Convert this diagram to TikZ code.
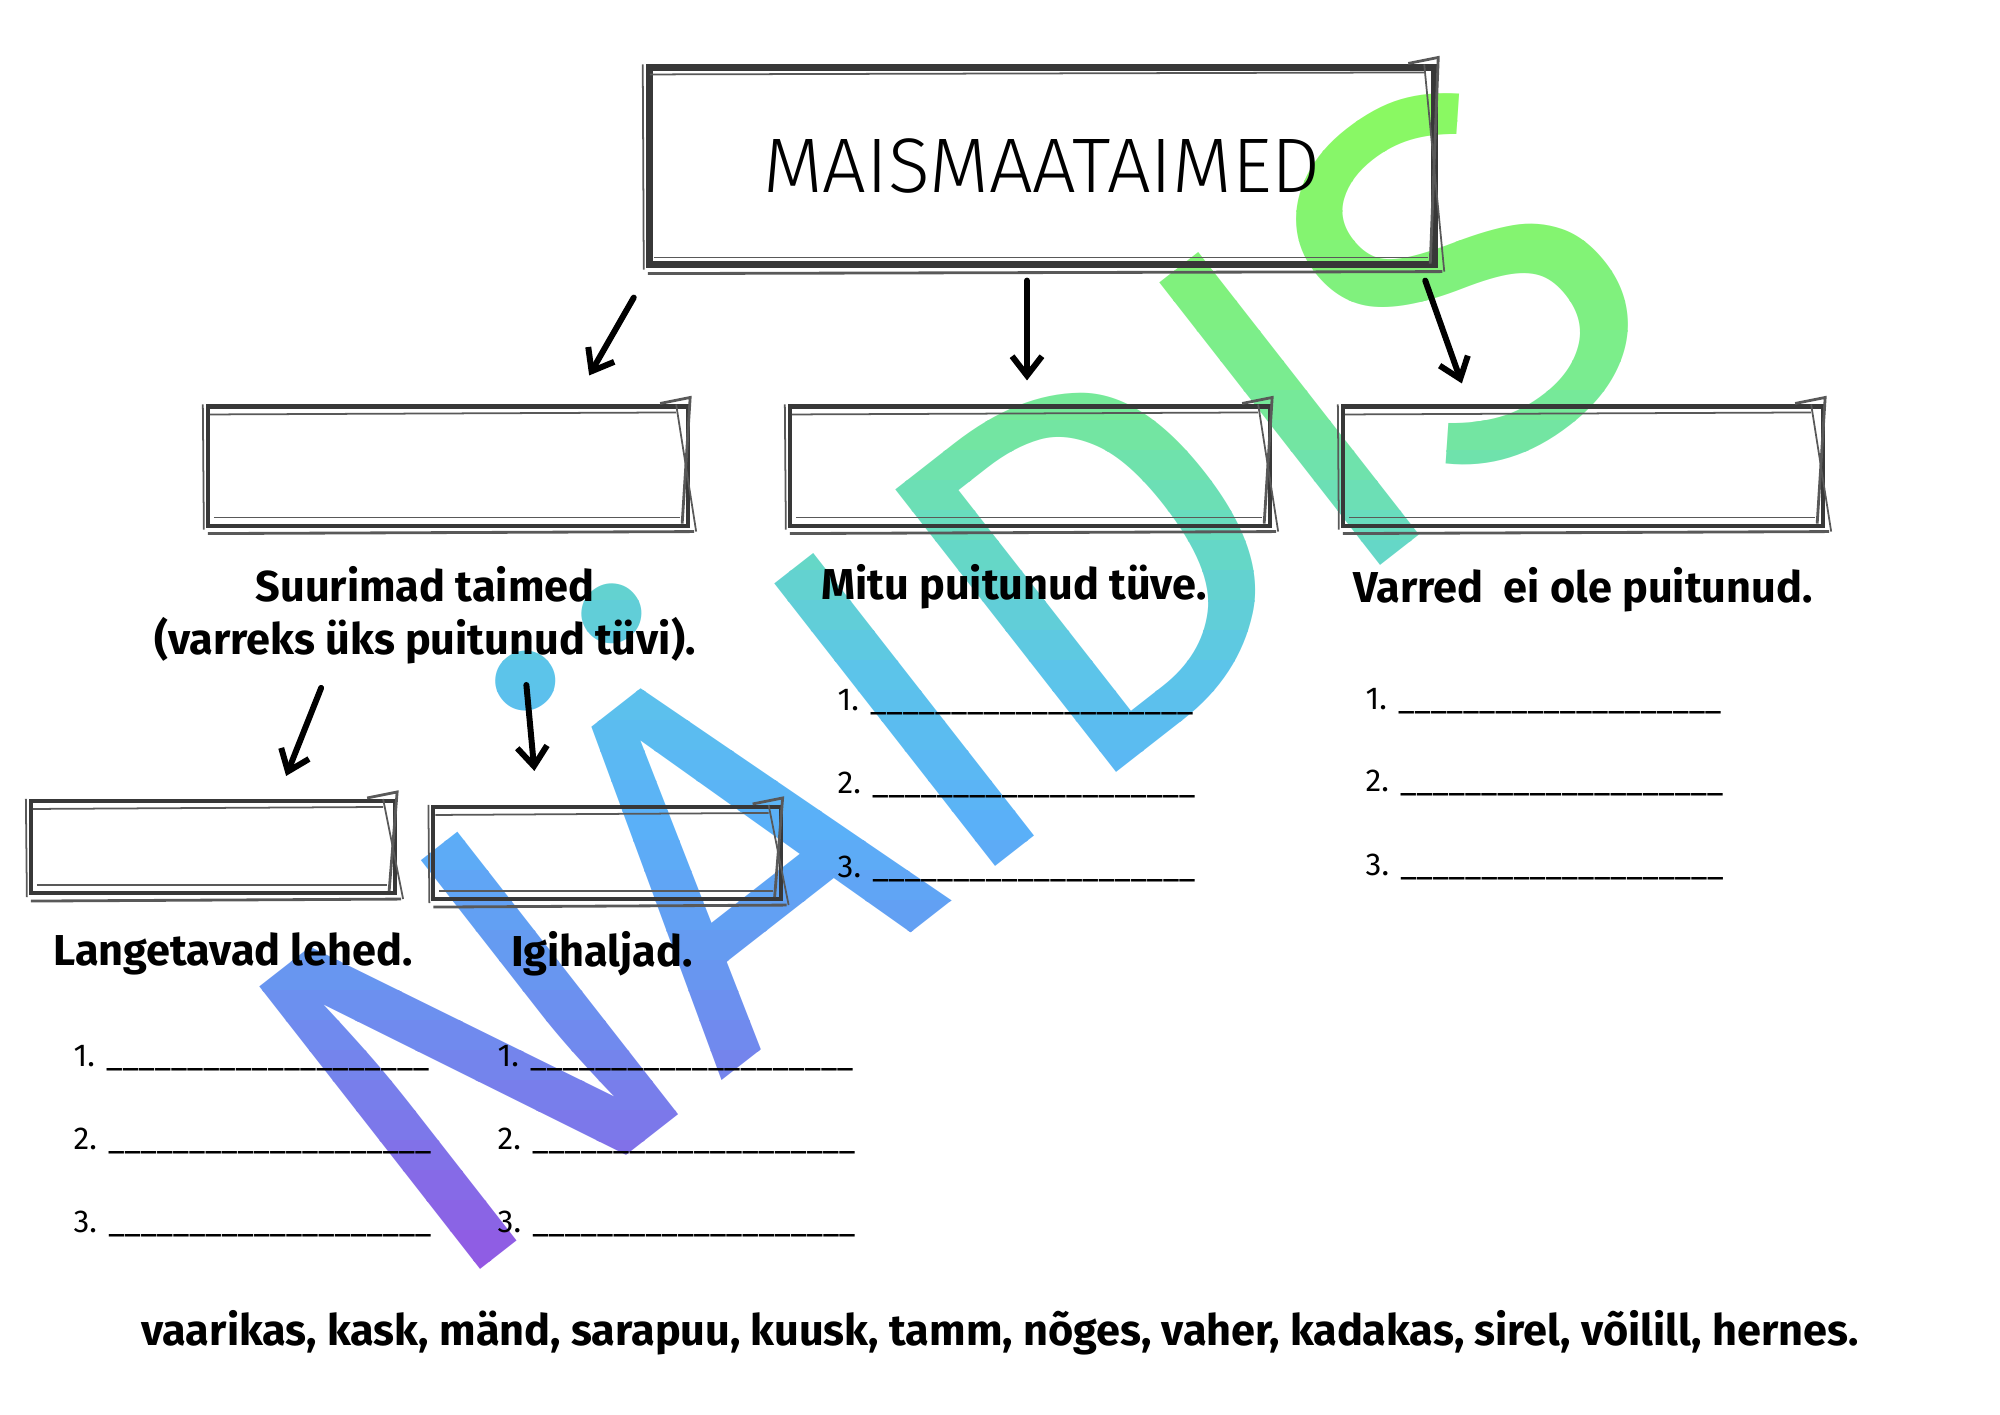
\documentclass[tikz,border=0pt]{standalone}
\usepackage{fontspec}
\setmainfont{Fira Sans}
\newfontfamily\lightfont{Fira Sans Light}
\usetikzlibrary{arrows.meta,calc}

\definecolor{wm0}{HTML}{8CFA5E}
\definecolor{wm1}{HTML}{84F470}
\definecolor{wm2}{HTML}{7AEC90}
\definecolor{wm3}{HTML}{68DCBE}
\definecolor{wm4}{HTML}{5CC4EA}
\definecolor{wm5}{HTML}{5AB0F8}
\definecolor{wm6}{HTML}{6896F0}
\definecolor{wm7}{HTML}{7C78EA}
\definecolor{wm8}{HTML}{9456E2}
\definecolor{wm9}{HTML}{9A48E0}

\begin{document}
\begin{tikzpicture}[
  x=0.01cm, y=-0.01cm,
  box/.style={draw=black!78, line width=1.15pt, inner sep=0pt,
    minimum width=4.8cm, minimum height=1.19cm},
  smallbox/.style={box, minimum width=3.55cm, minimum height=0.92cm},
  sketch/.style={draw=black!65, line width=0.5pt},
  label/.style={font=\fontsize{12.3}{15.2}\selectfont\bfseries, align=center},
  item/.style={anchor=base west, inner sep=0pt, font=\fontsize{9}{11}\selectfont},
  arr/.style={-{Straight Barb[length=5.5pt,width=8.5pt]}, line width=1.7pt, line cap=round},
  wmark/.style={anchor=base, inner sep=0pt, rotate=38,
    font=\fontsize{148}{148}\selectfont},
]
\useasboundingbox (0,0) rectangle (2000,1414);

% watermark, painted in bands for the gradient
\foreach \ya/\ca/\cb in {60/wm0/wm1, 210/wm1/wm2, 360/wm2/wm3, 510/wm3/wm4,
    660/wm4/wm5, 810/wm5/wm6, 960/wm6/wm7, 1110/wm7/wm8, 1260/wm8/wm9} {
  \foreach \k in {0,...,4} {
    \pgfmathtruncatemacro{\p}{100-20*\k}
    \pgfmathsetmacro{\yb}{\ya+30*\k}
    \colorlet{wmc}{\ca!\p!\cb}
    \begin{scope}
      \clip (0,\yb) rectangle (2000,\yb+31);
      \node[wmark, text=wmc] (wm) at (1062,815) {NÄIDIS};
    \end{scope}
  }
}

% boxes
\node[box, line width=2pt, minimum width=7.85cm, minimum height=1.96cm,
  font=\fontsize{22}{26}\selectfont\lightfont] (title) at (1042,166) {MAISMAATAIMED};
\node[box] (boxA) at (448,466) {};
\node[box] (boxB) at (1030,466) {};
\node[box] (boxC) at (1583,466) {};
\node[smallbox, minimum width=3.64cm] (boxD) at (213,847) {};
\node[smallbox, minimum width=3.47cm] (boxE) at (607,853) {};

% second pencil stroke round each box
\foreach \b in {title,boxA,boxB,boxC,boxD,boxE} {
  \draw[sketch] ([shift={(4,10)}]\b.north west) -- ([shift={(-14,8)}]\b.north east);
  \draw[sketch, line width=0.8pt] ([shift={(-30,-1)}]\b.north east)
    -- ([shift={(0,-7)}]\b.north east) -- ([shift={(-8,-4)}]\b.south east);
  \draw[sketch] ([shift={(-14,0)}]\b.north east) -- ([shift={(6,4)}]\b.south east);
  \draw[sketch] ([shift={(8,-10)}]\b.south west) -- ([shift={(-10,-10)}]\b.south east);
  \draw[sketch, line width=0.8pt] ([shift={(2,6)}]\b.south west) -- ([shift={(4,4)}]\b.south east);
  \draw[sketch] ([shift={(-3,0)}]\b.north west) -- ([shift={(-2,2)}]\b.south west);
}

% labels
\node[label] (large) at (425,615) {Suurimad taimed\\(varreks üks puitunud tüvi).};
\node[label] (many) at (1014,587) {Mitu puitunud tüve.};
\node[label] (soft) at (1583,590) {Varred\ \ ei ole puitunud.};
\node[label] (decid) at (233,954) {Langetavad lehed.};
\node[label] (ever) at (602,954) {Igihaljad.};

% answer lines
\foreach \x/\ys in {837/{710,793,877}, 1365/{709,791,875},
    73/{1066,1149,1232}, 497/{1066,1149,1232}} {
  \foreach \y [count=\n] in \ys
    \node[item] at (\x,\y) {\n. \_\_\_\_\_\_\_\_\_\_\_\_\_\_\_\_\_\_\_\_};
}

% arrows
\draw[arr] ($(title.south west)+(-12,30)$) -- ($(boxA.north east)+(-101,-29)$);
\draw[arr] ($(title.south)+(-15,13)$) -- ($(boxB.north)+(-3,-24)$);
\draw[arr] ($(title.south east)+(-13,13)$) -- ($(boxC.north west)+(121,-21)$);
\draw[arr] ($(boxD.north east)+(-76,-111)$) -- ($(boxD.north east)+(-111,-23)$);
\draw[arr] ($(boxE.north west)+(95,-120)$) -- ($(boxE.north west)+(103,-34)$);

\node[label] (plants) at (1000,1333)
  {vaarikas, kask, mänd, sarapuu, kuusk, tamm, nõges, vaher, kadakas, sirel, võilill, hernes.};
\end{tikzpicture}
\end{document}
